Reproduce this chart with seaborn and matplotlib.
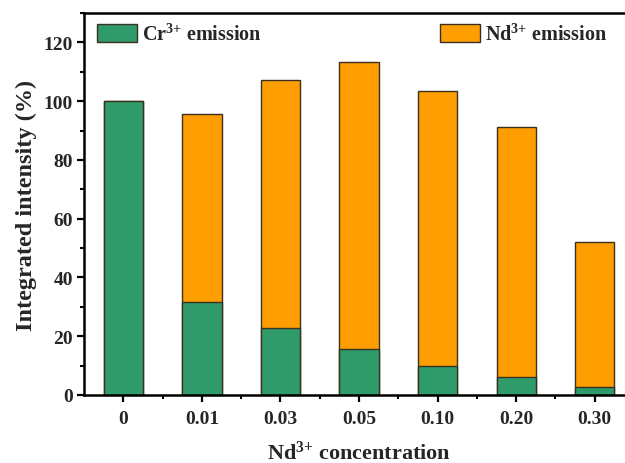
import numpy as np
import pandas as pd
import matplotlib
matplotlib.use("Agg")
import matplotlib.pyplot as plt
from matplotlib.ticker import MultipleLocator
from matplotlib.patches import Patch
import seaborn as sns

# ---- data ----
concentrations = ["0", "0.01", "0.03", "0.05", "0.10", "0.20", "0.30"]
cr_emission = [100.0, 31.5, 22.7, 15.8, 10.0, 6.1, 2.7]
nd_emission = [0.0, 64.0, 84.5, 97.6, 93.5, 85.1, 49.5]

green = "#2F9A6A"
orange = "#FF9E00"
edge = "#3a3020"

sns.set_theme(style="ticks")
plt.rcParams["font.family"] = ["Liberation Serif", "DejaVu Serif"]
plt.rcParams["font.weight"] = "bold"
plt.rcParams["mathtext.fontset"] = "custom"
plt.rcParams["mathtext.rm"] = "Liberation Serif:bold"
plt.rcParams["mathtext.bf"] = "Liberation Serif:bold"
plt.rcParams["mathtext.default"] = "bf"

df = pd.DataFrame({
    "conc": concentrations,
    "cr": cr_emission,
    "nd": nd_emission,
})
df["total"] = df["cr"] + df["nd"]

fig = plt.figure(figsize=(6.25, 4.64), dpi=100)
ax = fig.add_axes([0.1344, 0.1466, 0.88, 0.823])

sns.barplot(data=df, x="conc", y="total", color=orange, width=0.5,
            edgecolor=edge, linewidth=1.0, saturation=1, ax=ax)
sns.barplot(data=df, x="conc", y="cr", color=green, width=0.5,
            edgecolor=edge, linewidth=1.0, saturation=1, ax=ax)

ax.set_xlim(-0.5, 6.5)
ax.set_ylim(0, 130)
ax.yaxis.set_major_locator(MultipleLocator(20))
ax.yaxis.set_minor_locator(MultipleLocator(10))
ax.set_xticks(range(len(concentrations)))
ax.set_xticks(np.arange(0.5, len(concentrations) - 0.5, 1.0), minor=True)
ax.set_xticklabels(concentrations)

for s in ax.spines.values():
    s.set_linewidth(1.8)
    s.set_color("black")
ax.tick_params(axis="both", which="major", direction="out", length=5,
               width=1.6, labelsize=14, color="black")
ax.tick_params(axis="both", which="minor", direction="out", length=3,
               width=1.5, color="black")
ax.tick_params(axis="x", which="major", pad=5.5)
ax.tick_params(axis="y", which="major", pad=3)
for lab in ax.get_xticklabels() + ax.get_yticklabels():
    lab.set_fontweight("bold")

ax.set_xlabel(r"Nd$^{3{+}}$ concentration", fontsize=16, fontweight="bold", labelpad=10)
ax.set_ylabel("Integrated intensity (%)", fontsize=17.5, fontweight="bold", labelpad=5)

leg_kw = dict(loc="upper left", frameon=False, fontsize=14.5, borderpad=0,
              borderaxespad=0, handlelength=2.0, handleheight=1.0,
              handletextpad=0.25)
leg1 = ax.legend(handles=[Patch(facecolor=green, edgecolor=edge, linewidth=1.0,
                                label=r"Cr$^{3{+}}$ emission")],
                 bbox_to_anchor=(0.0236, 0.972), **leg_kw)
ax.add_artist(leg1)
ax.legend(handles=[Patch(facecolor=orange, edgecolor=edge, linewidth=1.0,
                         label=r"Nd$^{3{+}}$ emission")],
          bbox_to_anchor=(0.647, 0.972), **leg_kw)

fig.savefig("out.png", dpi=100)
